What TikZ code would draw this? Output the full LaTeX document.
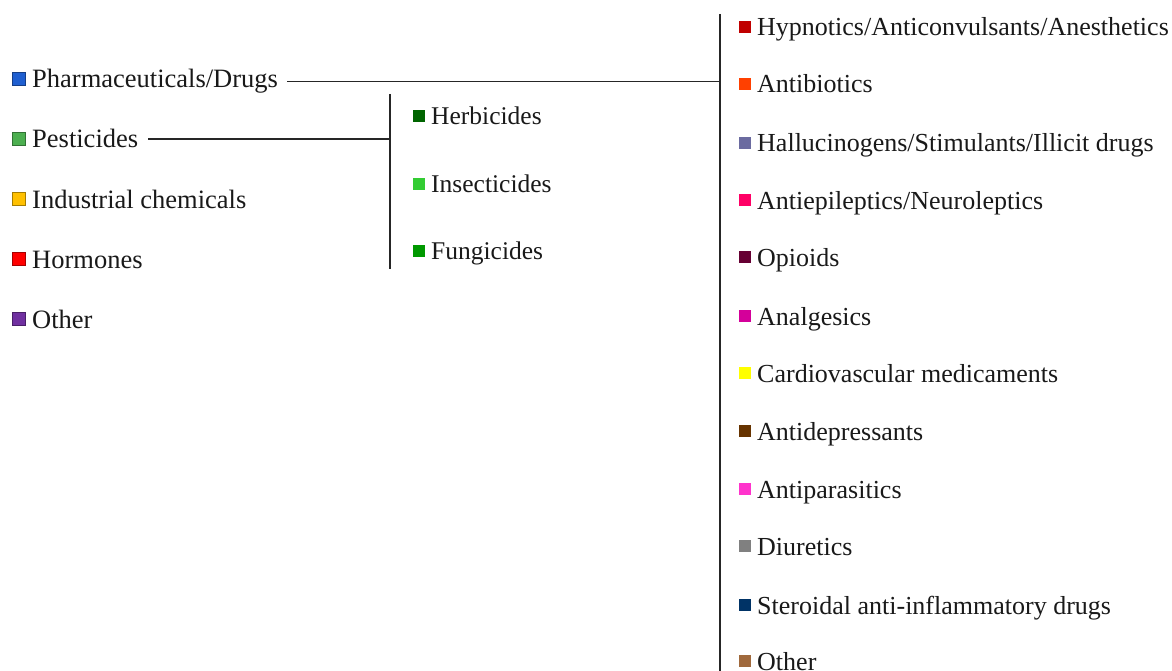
\documentclass[tikz,border=0pt]{standalone}
\usepackage{fontspec}
\setmainfont{Liberation Serif}
\definecolor{cPharma}{HTML}{1F5FD0}
\definecolor{cPest}{HTML}{4CAF50}
\definecolor{cInd}{HTML}{FFC000}
\definecolor{cHorm}{HTML}{FF0000}
\definecolor{cOth}{HTML}{7030A0}
\definecolor{cHerb}{HTML}{006400}
\definecolor{cInsect}{HTML}{33CC33}
\definecolor{cFung}{HTML}{009900}
\definecolor{cHyp}{HTML}{C00000}
\definecolor{cAntib}{HTML}{FF4000}
\definecolor{cHall}{HTML}{6B6BA0}
\definecolor{cEpi}{HTML}{FF0066}
\definecolor{cOpi}{HTML}{660033}
\definecolor{cAnal}{HTML}{D4009A}
\definecolor{cCardio}{HTML}{FFFF00}
\definecolor{cDep}{HTML}{663300}
\definecolor{cPara}{HTML}{FF33CC}
\definecolor{cDiu}{HTML}{808080}
\definecolor{cSter}{HTML}{003366}
\definecolor{cOthR}{HTML}{A0693C}
\begin{document}
\begin{tikzpicture}[x=1pt,y=-1pt,
  lab/.style={anchor=base west, inner sep=0pt, text=black!90, font=\fontsize{26}{30}\selectfont},
  labL/.style={lab, font=\fontsize{26.5}{30}\selectfont},
  labM/.style={lab, font=\fontsize{25.5}{30}\selectfont},
  sqL/.style={draw=#1!65!black, fill=#1, line width=1.2pt, minimum size=12.5pt, inner sep=0pt},
  sqR/.style={fill=#1, minimum size=12pt, inner sep=0pt},
  conn/.style={line width=1.2pt, draw=black!85}]
\useasboundingbox (0,0) rectangle (1172,671);

% left column
\foreach \n/\c/\col/\t in {L1/78/cPharma/Pharmaceuticals\slash Drugs,
                           L2/138/cPest/Pesticides,
                           L3/198/cInd/Industrial chemicals,
                           L4/258/cHorm/Hormones,
                           L5/318/cOth/Other}{
  \node[sqL=\col] (s\n) at (19,\c+1) {};
  \node[labL] (t\n) at (32,\c+10) {\t};
}

% middle column
\foreach \n/\c/\col/\t in {M1/116/cHerb/Herbicides,
                           M2/184/cInsect/Insecticides,
                           M3/251/cFung/Fungicides}{
  \node[sqR=\col] (s\n) at (419,\c) {};
  \node[labM] (t\n) at (431,\c+8.5) {\t};
}

% right column
\foreach \n/\c/\col/\t in {R1/27/cHyp/Hypnotics\slash Anticonvulsants\slash Anesthetics,
                           R2/84/cAntib/Antibiotics,
                           R3/143/cHall/Hallucinogens\slash Stimulants\slash Illicit drugs,
                           R4/200/cEpi/Antiepileptics\slash Neuroleptics,
                           R5/257/cOpi/Opioids,
                           R6/316/cAnal/Analgesics,
                           R7/373/cCardio/Cardiovascular medicaments,
                           R8/431/cDep/Antidepressants,
                           R9/489/cPara/Antiparasitics,
                           R10/546/cDiu/Diuretics,
                           R11/605/cSter/Steroidal anti-inflammatory drugs,
                           R12/661/cOthR/Other}{
  \node[sqR=\col] (s\n) at (745,\c) {};
  \node[lab] (t\n) at (757,\c+9) {\t};
}

% bracket lines
\coordinate (rTop) at (720,14);
\coordinate (rBot) at (720,671);
\coordinate (mTop) at (390,94);
\coordinate (mBot) at (390,269);
\draw[conn] (rTop) -- (rBot);
\draw[conn] (mTop) -- (mBot);
\draw[conn] ([xshift=9pt]tL1.east) -- (tL1.east -| rTop);
\draw[conn] ([xshift=10pt]tL2.east) -- (tL2.east -| mTop);
\end{tikzpicture}
\end{document}
